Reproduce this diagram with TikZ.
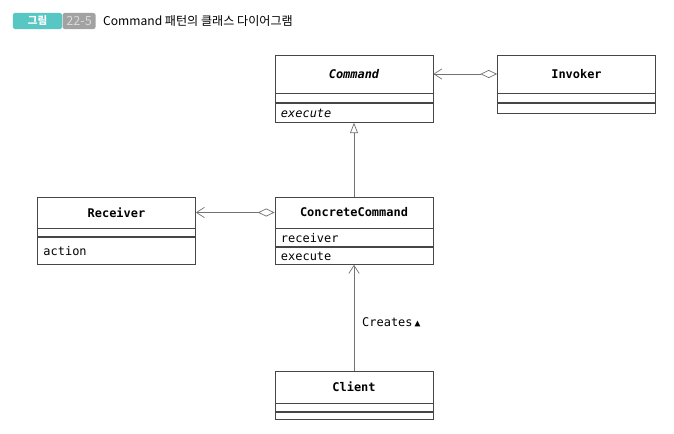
\documentclass[tikz,border=0pt]{standalone}
\usepackage{fontspec}
\usepackage{tikz}
\usepackage{xcolor}
\usetikzlibrary{arrows.meta,positioning}

\newfontfamily\mono{DejaVu Sans Mono}
\newfontfamily\kr{Noto Sans CJK KR}

\definecolor{badgeteal}{RGB}{88,198,194}
\definecolor{badgegray}{RGB}{162,162,162}
\definecolor{umlline}{RGB}{70,70,70}

\tikzset{
  clsname/.style={draw=umlline, line width=0.5pt, minimum width=3.95cm, inner sep=0pt,
    font=\mono\bfseries\fontsize{8.5}{10}\selectfont},
  clspart/.style={draw=umlline, line width=0.5pt, anchor=north, text width=3.65cm,
    inner xsep=0.15cm, inner ysep=0pt, align=left, font=\mono\fontsize{8.5}{10}\selectfont},
  agg/.style={draw=black!55, line width=0.5pt,
    {Straight Barb[length=0.2cm,width=0.26cm]}-{Diamond[open,length=0.42cm,width=0.2cm]}},
  inherit/.style={draw=black!55, line width=0.5pt, -{Triangle[open,length=0.26cm,width=0.2cm]}},
  assoc/.style={draw=black!55, line width=0.5pt, -{Straight Barb[length=0.2cm,width=0.26cm]}},
}

\begin{document}
\begin{tikzpicture}[x=0.025cm, y=-0.025cm]
    \useasboundingbox[fill=white] (0,0) rectangle (674,433);

    % Title
    \node[fill=badgeteal, rounded corners=1.5pt, minimum width=1.225cm, minimum height=0.4cm,
      inner sep=0pt, text=white, font=\kr\bfseries\fontsize{7.5}{8}\selectfont] (badge) at (37.5,21) {그림};
    \node[fill=badgegray, rounded corners=1.5pt, minimum width=0.825cm, minimum height=0.4cm,
      inner sep=0pt, text=white!85!black, font=\kr\fontsize{9}{10}\selectfont,
      right=0pt of badge] (badgenum) {22-5};
    \node[anchor=west, inner sep=0pt, font=\kr\fontsize{8.6}{10}\selectfont,
      right=0.175cm of badgenum] (title) {Command 패턴의 클래스 다이어그램};

    % Command
    \node[clsname, minimum height=0.95cm, font=\mono\bfseries\itshape\fontsize{8.5}{10}\selectfont] (cmd) at (354,74) {Command};
    \node[clspart, minimum height=0.225cm] (cmdattr) at (cmd.south) {};
    \node[clspart, minimum height=0.475cm, font=\mono\itshape\fontsize{8.5}{10}\selectfont] (cmdops) at (cmdattr.south) {execute};

    % Invoker
    \node[clsname, minimum height=0.95cm] (inv) at (576.5,74) {Invoker};
    \node[clspart, minimum height=0.225cm] (invattr) at (inv.south) {};
    \node[clspart, minimum height=0.25cm] (invops) at (invattr.south) {};

    % ConcreteCommand
    \node[clsname, minimum height=0.775cm] (cc) at (354,212.5) {ConcreteCommand};
    \node[clspart, minimum height=0.45cm] (ccattr) at (cc.south) {receiver};
    \node[clspart, minimum height=0.425cm] (ccops) at (ccattr.south) {execute};

    % Receiver
    \node[clsname, minimum height=0.775cm] (rcv) at (116.5,212.5) {Receiver};
    \node[clspart, minimum height=0.2cm] (rcvattr) at (rcv.south) {};
    \node[clspart, minimum height=0.675cm] (rcvops) at (rcvattr.south) {action};

    % Client
    \node[clsname, minimum height=0.8cm] (cl) at (354,387) {Client};
    \node[clspart, minimum height=0.2cm] (clattr) at (cl.south) {};
    \node[clspart, minimum height=0.175cm] (clops) at (clattr.south) {};

    % Relations
    \draw[agg] (cmd.east) -- (inv.west);
    \draw[agg] (rcv.east) -- (cc.west);
    \draw[inherit] (cc.north) -- (cmdops.south);
    \draw[assoc] (cl.north) -- node[pos=0.46, anchor=west, xshift=0.08cm,
      font=\mono\fontsize{8.5}{10}\selectfont] {Creates\,{\fontsize{7}{8}\selectfont▲}} (ccops.south);
\end{tikzpicture}
\end{document}
